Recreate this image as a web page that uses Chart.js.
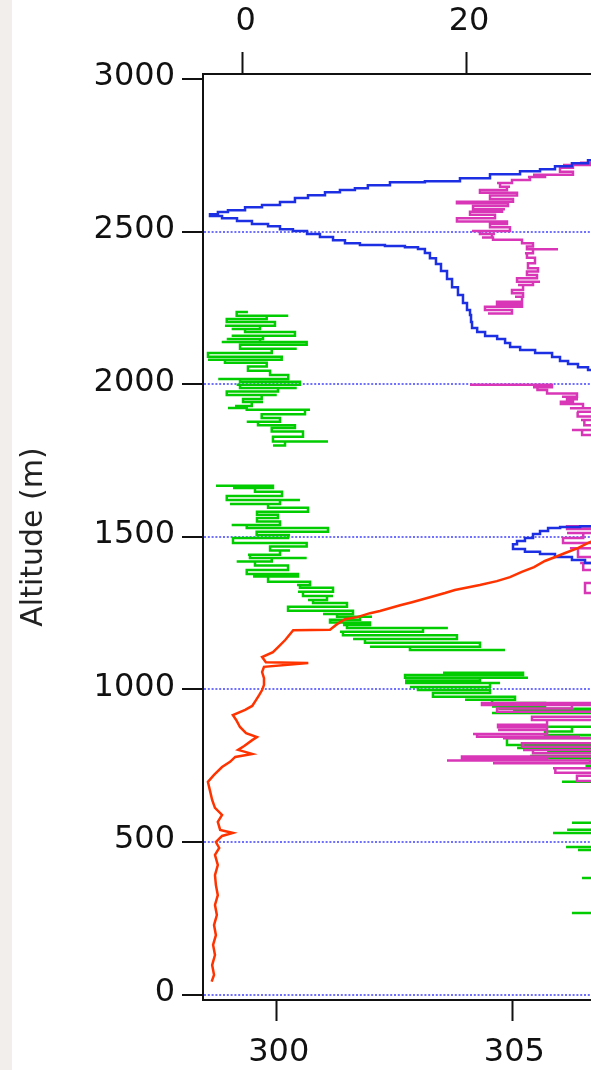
<!DOCTYPE html>
<html>
<head>
<meta charset="utf-8">
<script src="https://cdn.jsdelivr.net/npm/chart.js@4.4.1/dist/chart.umd.min.js"></script>
<style>
html,body{margin:0;padding:0;}
body{width:591px;height:1070px;overflow:hidden;background:linear-gradient(to right,#f1eeeb 0,#f1eeeb 12px,#ffffff 12px);}
#wrap{width:591px;height:1070px;overflow:hidden;position:relative;}
canvas{display:block;}
</style>
</head>
<body>
<div id="wrap"><canvas id="c" width="900" height="1070"></canvas></div>
<script>
// ---- axis ticks ----
const altitudeTicks = [0, 500, 1000, 1500, 2000, 2500, 3000];
const bottomTicks = [300, 305, 310];
const topTicks = [0, 20, 40];
const axisTitle = 'Altitude (m)';

// ---- series: rows of [altitude (m), value, value, ...] ----
// red: bottom axis
const redRows = [
 [43,298.62],[65,298.67],[97,298.63],[130,298.69],[163,298.65],[195,298.71],[228,298.67],[261,298.73],
 [294,298.69],[326,298.75],[359,298.71],[392,298.69],[425,298.75],[458,298.69],[481,298.78],[500,298.71],
 [520,298.84],[530,299.07],[540,298.80],[566,298.75],[589,298.84],[612,298.69],[638,298.63],[671,298.58],
 [697,298.54],[720,298.67],[746,298.84],[763,299.01],[779,299.12],[789,299.48],[802,299.18],[815,299.31],
 [834,299.48],[844,299.58],[857,299.35],[877,299.22],[900,299.14],[916,299.07],[933,299.33],[946,299.48],
 [965,299.56],[982,299.63],[998,299.69],[1015,299.73],[1037,299.73],[1057,299.69],[1074,299.73],
 [1087,300.67],[1089,299.77],[1106,299.69],[1122,299.92],[1139,300.03],[1162,300.18],[1181,300.28],
 [1194,300.35],[1196,301.13],[1214,301.28],[1230,301.45],[1237,301.71],[1250,301.98],[1257,302.19],
 [1276,302.62],[1286,302.87],[1302,303.25],[1316,303.57],[1326,303.78],[1342,304.31],[1355,304.67],
 [1368,304.95],[1385,305.20],[1401,305.46],[1421,305.69],[1434,305.91],[1447,306.12],[1463,306.39],
 [1480,306.61],[1496,306.86],[1522,307.29],[1555,307.71]
];

// blue: top axis
const blueRows = [
 [1380,34],[1414,32,30.66],[1424,29.49],[1434,27.97],[1444,26.63],[1451,25.28],[1460,24.21],[1467,24.21],
 [1476,24.57],[1486,25.28],[1496,26.0],[1509,26.63],[1519,27.35],[1529,28.43],[1532,30.22],[1535,32],
 [1560,36],[2000,36],[2040,31.56],[2047,30.93],[2056,30.03],[2066,29.14],[2076,28.42],[2089,27.71],
 [2102,26.19],[2112,24.85],[2122,23.95],[2135,23.50],[2148,22.79],[2158,21.71],[2171,21.0],[2184,20.54],
 [2204,20.45],[2227,20.36],[2243,20.09],[2266,19.73],[2292,19.28],[2318,18.75],[2345,18.30],[2371,17.76],
 [2394,17.31],[2413,16.77],[2430,16.32],[2443,15.70],[2449,14.53],[2453,12.74],[2456,10.50],[2462,9.16],
 [2472,8.09],[2482,6.92],[2492,5.76],[2502,4.50],[2508,3.34],[2518,2.27],[2525,0.83],[2535,-0.51],
 [2544,-1.85],[2551,-2.93],[2557,-2.22],[2564,-1.32],[2570,0.21],[2580,1.73],[2587,3.34],[2597,4.68],
 [2610,5.85],[2619,7.37],[2629,8.71],[2636,10.05],[2642,11.21],[2652,13.19],[2662,16.32],[2665,19.46],
 [2675,22.15],[2688,24.84],[2698,26.63],[2704,27.97],[2714,29.49],[2724,30.93],[2734,32],[2800,38]
];

// green: top axis (null = no data)
const greenRows = [
 [260,34],[268,34,29.49,34],[382,34,30.39,34],[474,34,30.03,34],[484,34,28.96,34],[530,34,27.79,34],
 [540,34,29.05,34],[563,34,29.49,34],[698,34,28.60,34],[750,34,30.7,34],[775,27.35,34],
 [782,34,25.73,26.3,34],[795,34,27.26,34],[808,24.57,28.42],[818,34,23.67],[841,27.26,34],[851,34,27.08],
 [862,27.52,29.49],[878,27.35,34],[923,34,22.33,29.05],[933,24.21,34],[937,34,23.05],[944,22.33,27.08],
 [956,24.57,22.33],[966,19.91,24.39],[976,20.99,17.04],[988,17.04,22.15],[998,22.15,15.70],
 [1008,14.98,22.15],[1021,23.05,14.54,18.75],[1029,14.54,21.25],[1038,25.55,14.54],[1047,15.88,25.11],
 [1055,21.70,17.94],
 [1090,null],
 [1129,23.49,14.98],[1140,11.40,21.25],[1153,18.29,10.95],[1165,9.88,19.19],[1178,17.67,8.98],
 [1189,8.71,16.15],[1201,18.38,9.34],[1211,8.98,11.40],[1219,8.98,7.82],[1228,7.82,10.51],
 [1238,11.58,8.45],[1247,7.19,9.88],[1258,9.61,4.06],[1271,7.19,9.34],[1283,8.45,6.30],[1293,5.85,7.55],
 [1306,8.09,5.40],[1320,4.95,8.09],[1333,6.65,5.13],[1342,4.86,6.03],[1353,4.86,2.27],[1370,0.92,4.95],
 [1378,2.27,0.36],[1391,1.55,4.06],[1406,2.71,1.10],[1419,-0.54,2.60],[1431,5.73,0.65],[1441,0.47,3.34],
 [1455,4.24,2.45],[1468,2.45,5.73],[1480,2.15,-0.87],[1496,1.55,4.06],[1506,4.24,1.25],[1517,1.25,7.64],
 [1529,6.30,0.36],[1539,-0.99,3.34],[1550,3.16,1.28],[1562,1.28,3.16],[1572,3.16,1.28],[1582,3.07,5.85],
 [1595,3.34,2.27],[1608,-1.14,3.34],[1621,5.13,-1.43],[1634,1.10,3.52],[1648,2.62,1.10],[1660,-0.87,2.71],
 [1667,0.05,-2.39],
 [1740,null],
 [1799,2.71,3.79],[1812,7.64,2.71],[1828,2.71,5.40],[1845,3.79,2.60],[1857,3.16,4.68],[1866,3.61,1.37],
 [1877,0.36,3.34],[1889,3.19,1.70],[1902,1.82,5.58],[1916,6.03,0.36],[1922,-1.32,0.21],[1929,-0.69,0.81],
 [1942,1.82,0.03],[1952,0.36,1.70],[1965,3.05,-1.43],[1976,-0.54,3.16],[1988,4.84,-0.24],[1998,-0.54,5.13],
 [2008,5.13,-0.24],[2017,-2.19,4.08],[2030,4.08,2.45],[2044,2.45,0.47],[2058,0.47,2.15],[2070,2.15,-1.59],
 [2080,-3.11,3.49],[2090,3.61,-3.11],[2102,0.65,2.60],[2116,4.84,-0.24],[2129,0.03,5.73],[2138,-1.88,1.55],
 [2148,-1.43,1.82],[2159,-0.99,4.68],[2171,2.60,0.21],[2181,-0.99,1.55],[2192,-1.59,2.89],[2204,2.74,-1.43],
 [2214,0.36,2.15],[2224,4.08,-0.54],[2237,-0.09,0.47]
];

// magenta: top axis (null = no data)
const magentaRows = [
 [690,34],[700,34,29.94],[717,29.94,34],[727,34,28.0],[742,27.79,34],[758,34,22.42,31.11],
 [767,31.11,18.30,27.26],[775,25.46,19.64],[780,22.0,34],[791,34,26.0],[802,25.11,34],[812,34,25.01],
 [824,25.46,34],[840,34,23.31,27.26],[845,30.21,20.99],[854,20.63,27.26],[867,22.87,27.26],
 [876,25.73,22.87],[884,23.05,27.26],[900,34,25.91],[911,26.0,34],[927,29.14,22.78],[938,26.9,29.49],
 [949,34,21.43],[956,27.52,34],[1000,34],
 [1316,34,30.66],[1349,30.66,34],[1391,34,30.5],[1414,30.22,34],[1434,34,30.03],[1463,29.31,34],
 [1480,34,28.69],[1496,28.7,30.5],[1513,29.05,34],[1526,34,29.05],[1535,29.5,34],
 [1834,34,30.4],[1850,29.49,34],[1866,34,30.6],[1883,30.3,34],[1894,34,30.0],[1910,29.94,34],
 [1921,34,29.31,30.48],[1935,29.3,28.5],[1943,28.60,29.58],[1951,30.03,29.05],[1959,28.60,29.94],
 [1970,28.69,27.26],[1981,27.26,26.4],[1990,26.0,27.7],[1998,27.79,20.36],
 [2100,null],
 [2232,21.97,24.12],[2243,24.12,21.70],[2254,23.94,25.02],[2262,24.57,22.78],[2270,23.94,25.02],
 [2287,24.39,25.11],[2298,25.11,24.12],[2309,24.12,25.11],[2325,24.66,26.0],[2336,26.63,24.57],
 [2347,25.11,26.36],[2358,26.18,25.46],[2369,25.73,26.45],[2380,26.36,25.55],[2396,25.55,26.18],
 [2414,26.0,25.46],[2429,25.28,26.0],[2442,28.24,25.46],[2451,25.55,26.0],[2462,25.91,25.02],
 [2473,25.02,22.42],[2481,22.15,21.43,22.33],[2492,22.60,21.25],[2502,20.54,23.94],[2514,23.94,22.15],
 [2525,22.78,23.67],[2533,23.23,19.19],[2544,20.18,22.60],[2555,22.42,20.36],[2565,21.43,23.23],
 [2573,23.49,20.63],[2584,22.33,23.76],[2593,23.23,19.19],[2598,21.88,24.21],[2607,23.94,22.15],
 [2618,22.78,24.57],[2627,23.23,21.25],[2636,21.97,23.67],[2647,23.94,23.05],[2659,22.78,24.12],
 [2669,24.57,25.73],[2679,25.55,27.08],[2686,26.0,29.58],[2696,29.58,28.42],[2709,28.60,29.58],
 [2718,28.69,31.11],[2726,30.21,31.11,34],[2800,36]
];

function toPoints(rows){
  const pts = [];
  rows.forEach(r => {
    const alt = r[0];
    for (let i = 1; i < r.length; i++) {
      if (r[i] === null) pts.push({x: null, y: null});
      else pts.push({x: r[i], y: alt});
    }
  });
  return pts;
}

const FONT = "'DejaVu Sans', 'Liberation Sans', sans-serif";
const fmt = v => String(v);

function line(label, rows, color, axis, order, stepped){
  return {label, data: toPoints(rows), xAxisID: axis, yAxisID: 'y', borderColor: color,
    backgroundColor: color, borderWidth: 2.5, pointRadius: 0, pointHoverRadius: 0,
    showLine: true, stepped: stepped, tension: 0, spanGaps: false, order, fill: false};
}

new Chart(document.getElementById('c'), {
  type: 'scatter',
  data: { datasets: [
    line('red', redRows, '#ff3300', 'xb', 1, false),
    line('blue', blueRows, '#1c2fe2', 'xt', 2, 'after'),
    line('magenta', magentaRows, '#d836b6', 'xt', 3, 'after'),
    line('green', greenRows, '#00cc00', 'xt', 4, 'after')
  ]},
  options: {
    responsive: false, animation: false, devicePixelRatio: 1,
    layout: { padding: 0 },
    plugins: { legend: { display: false }, tooltip: { enabled: false } },
    events: [],
    scales: {
      y: {
        type: 'linear', position: 'left', min: -17.4, max: 3016.4,
        afterFit: s => { s.width = 203; },
        afterBuildTicks: s => { s.ticks = altitudeTicks.map(v => ({value: v})); },
        ticks: { padding: 7, labelOffset: -2, color: '#111', callback: fmt, font: { family: FONT, size: 32 } },
        grid: { color: c => (c.tick && c.tick.value === 3000) ? 'rgba(0,0,0,0)' : '#7070ff',
                lineWidth: 2, drawTicks: true, tickLength: 21, tickWidth: 2, tickColor: '#111' },
        border: { display: true, color: '#111', width: 2, dash: [2, 1.8] },
        title: { display: true, text: axisTitle, color: '#222', font: { family: FONT, size: 30 }, padding: { top: 16, bottom: 0 } }
      },
      xb: {
        type: 'linear', position: 'bottom', min: 298.436, max: 313.225,
        afterFit: s => { s.height = 70; },
        afterBuildTicks: s => { s.ticks = bottomTicks.map(v => ({value: v})); },
        ticks: { padding: 12, labelOffset: 2, color: '#111', callback: fmt, maxRotation: 0, autoSkip: false, font: { family: FONT, size: 32 } },
        grid: { drawOnChartArea: false, drawTicks: true, tickLength: 21, tickWidth: 2, tickColor: '#111' },
        border: { display: true, color: '#111', width: 2 }
      },
      xt: {
        type: 'linear', position: 'top', min: -3.556, max: 58.871,
        afterFit: s => { s.height = 74; },
        afterBuildTicks: s => { s.ticks = topTicks.map(v => ({value: v})); },
        ticks: { padding: 11, labelOffset: 3, color: '#111', callback: fmt, maxRotation: 0, autoSkip: false, font: { family: FONT, size: 32 } },
        grid: { drawOnChartArea: false, drawTicks: true, tickLength: 22, tickWidth: 2, tickColor: '#111' },
        border: { display: true, color: '#111', width: 2 }
      }
    }
  }
});
</script>
</body>
</html>
